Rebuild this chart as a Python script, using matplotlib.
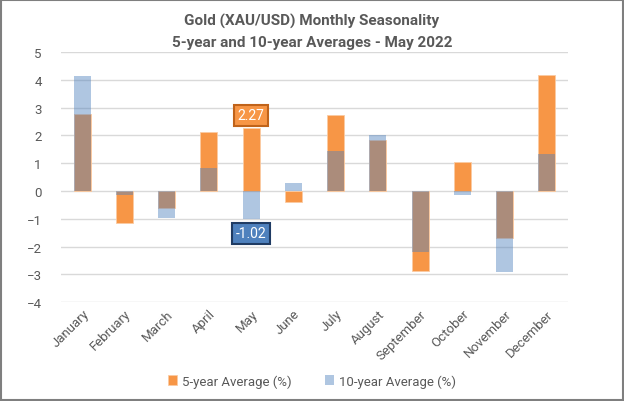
import numpy as np
import matplotlib.pyplot as plt
from matplotlib.patches import Rectangle

plt.rcParams['font.family'] = ['Roboto', 'DejaVu Sans']

# values
months = ['January', 'February', 'March', 'April', 'May', 'June',
          'July', 'August', 'September', 'October', 'November', 'December']
avg5 = [2.78, -1.15, -0.63, 2.13, 2.27, -0.40, 2.74, 1.84, -2.88, 1.03, -1.68, 4.16]
avg10 = [4.14, -0.14, -0.98, 0.84, -1.02, 0.27, 1.43, 2.02, -2.19, -0.15, -2.93, 1.32]

txt = '#595959'
orange = '#F79646'
blue = '#4F81BD'

fig = plt.figure(figsize=(6.24, 4.02), dpi=100)
ax = fig.add_axes([0.098, 0.246, 0.812, 0.622])

x = np.arange(len(months))
w = 0.4
ax.bar(x, avg5, w, color=orange, edgecolor='#FBCBA2', linewidth=0.6, zorder=2,
       label='5-year Average (%)')
ax.bar(x, avg10, w, color=blue, alpha=0.45, edgecolor='none', zorder=3,
       label='10-year Average (%)')

ax.set_ylim(-4, 5)
ax.set_xlim(-0.5, 11.5)
ax.set_yticks(range(-4, 6))
ax.yaxis.grid(True, color='#D9D9D9', linewidth=1)
ax.set_axisbelow(True)
for s in ax.spines.values():
    s.set_visible(False)
ax.tick_params(length=0, colors=txt, labelsize=9.5)
ax.tick_params(axis='y', pad=14)
ax.set_xticks(x)
ax.set_xticklabels(months, rotation=45, ha='right', rotation_mode='anchor')

# May data labels
may = months.index('May')
ax.annotate('%.2f' % avg5[may], (may, avg5[may]), xytext=(0, 4),
            textcoords='offset points', ha='center', va='bottom', color='white',
            fontsize=10, bbox=dict(boxstyle='square,pad=0.25', fc=orange, ec='#C0631A', lw=1.5),
            zorder=5)
ax.annotate('%.2f' % avg10[may], (may, avg10[may]), xytext=(0, -5),
            textcoords='offset points', ha='center', va='top', color='white',
            fontsize=10, bbox=dict(boxstyle='square,pad=0.25', fc=blue, ec='#1F3B63', lw=1.5),
            zorder=5)

fig.text(0.5, 0.947, 'Gold (XAU/USD) Monthly Seasonality', ha='center', va='center',
         color=txt, fontsize=11, fontweight='bold')
fig.text(0.5, 0.892, '5-year and 10-year Averages - May 2022', ha='center', va='center',
         color=txt, fontsize=11, fontweight='bold')

fig.legend(loc='center', bbox_to_anchor=(0.5, 0.05), ncol=2, frameon=False,
           fontsize=9.5, labelcolor=txt, handlelength=0.7, handleheight=0.7,
           columnspacing=2.5, handletextpad=0.4)

fig.patches.append(Rectangle((0.002, 0.003), 0.996, 0.994, transform=fig.transFigure,
                             fill=False, edgecolor='#7F7F7F', linewidth=1.5))

fig.savefig('out.png', dpi=100)
